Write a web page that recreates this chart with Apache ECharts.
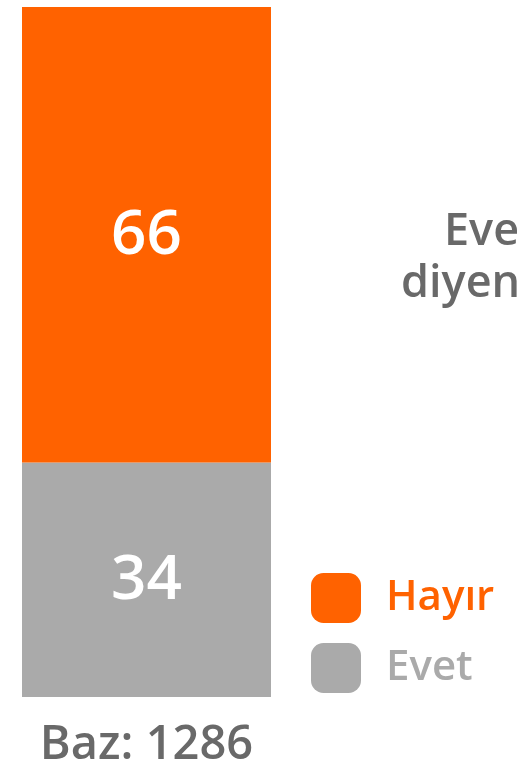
<!DOCTYPE html>
<html>
<head>
<meta charset="utf-8">
<script src="https://cdn.jsdelivr.net/npm/echarts@6/dist/echarts.min.js"></script>
<style>
  html, body { margin: 0; padding: 0; background: #fff; }
  #chart { width: 517px; height: 774px; }
</style>
</head>
<body>
<div id="chart"></div>
<script>
const categories = ['Baz: 1286']
const seriesNames = ['Hayır', 'Evet']
const hayirValues = [66]
const evetValues = [34]

const orange = '#ff6200'
const grey = '#aaaaaa'
const textGrey = '#696969'
const fontFamily = '"Open Sans", "Noto Sans", sans-serif'

const chart = echarts.init(document.getElementById('chart'))

chart.setOption({
  animation: false,
  textStyle: { fontFamily },
  grid: { left: 22, right: 246, top: 7, bottom: 77 },
  legend: {
    orient: 'vertical',
    left: 311,
    top: 573,
    padding: 0,
    icon: 'roundRect',
    itemWidth: 50,
    itemHeight: 50,
    itemGap: 20,
    selectedMode: false,
    textStyle: { fontSize: 42, fontWeight: 600, padding: [0, 0, 0, 20] },
    data: [
      { name: seriesNames[0], textStyle: { color: orange } },
      { name: seriesNames[1], textStyle: { color: grey } }
    ]
  },
  xAxis: {
    type: 'category',
    data: categories,
    axisLine: { show: false },
    axisTick: { show: false },
    axisLabel: { color: textGrey, fontSize: 47, fontWeight: 600, margin: 25 }
  },
  yAxis: { type: 'value', min: 0, max: 100, show: false },
  graphic: [
    {
      type: 'text', left: 444, top: 210,
      style: { text: 'Evet', fill: textGrey, font: '600 45px ' + fontFamily }
    },
    {
      type: 'text', left: 401, top: 262,
      style: { text: 'diyenler', fill: textGrey, font: '600 45px ' + fontFamily }
    }
  ],
  series: [
    {
      name: seriesNames[1],
      type: 'bar',
      stack: 'total',
      barWidth: '100%',
      itemStyle: { color: grey },
      label: { show: true, position: 'inside', color: '#fff', fontSize: 62, fontWeight: 600, offset: [0, 2] },
      data: evetValues
    },
    {
      name: seriesNames[0],
      type: 'bar',
      stack: 'total',
      barWidth: '100%',
      itemStyle: { color: orange },
      label: { show: true, position: 'inside', color: '#fff', fontSize: 62, fontWeight: 600, offset: [0, 2] },
      data: hayirValues
    }
  ]
})
</script>
</body>
</html>
